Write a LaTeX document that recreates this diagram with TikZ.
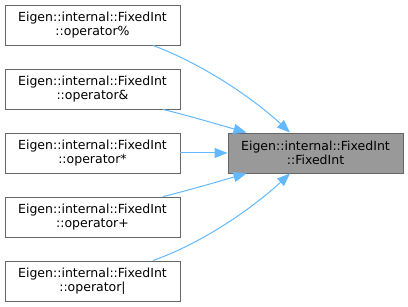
\documentclass[tikz,border=0pt]{standalone}
\usepackage{fontspec}
\setmainfont{DejaVu Sans}
\usetikzlibrary{arrows.meta}
\definecolor{edgeblue}{HTML}{63B8FF}
\definecolor{boxline}{HTML}{666666}
\definecolor{hlfill}{HTML}{999999}
\tikzset{
  fnbox/.style={draw=boxline, line width=0.9pt, fill=white, minimum width=175pt,
    minimum height=40pt, inner sep=0pt, align=center, font=\fontsize{12.5}{13.5}\selectfont},
  hlbox/.style={fnbox, fill=hlfill},
  callarrow/.style={draw=edgeblue, line width=1pt,
    -{Triangle[length=13pt,width=10pt]}, shorten >=0pt}
}
\begin{document}
\begin{tikzpicture}[x=1pt,y=-1pt]
  \useasboundingbox (0,0) rectangle (408,307);
  \node[fnbox] (mod) at (92.5,25)  {Eigen::internal::FixedInt\\::operator\%};
  \node[fnbox] (and) at (92.5,89)  {Eigen::internal::FixedInt\\::operator\&};
  \node[fnbox] (mul) at (92.5,153) {Eigen::internal::FixedInt\\::operator*};
  \node[fnbox] (add) at (92.5,217) {Eigen::internal::FixedInt\\::operator+};
  \node[fnbox] (bor) at (92.5,281) {Eigen::internal::FixedInt\\::operator|};
  \node[hlbox] (fi)  at (315.5,153) {Eigen::internal::FixedInt\\::FixedInt};

  \coordinate (t1) at ([xshift=-25.5]fi.north);
  \coordinate (t2) at ([xshift=-69]fi.north);
  \coordinate (t4) at ([xshift=-69]fi.south);
  \coordinate (t5) at ([xshift=-25.5]fi.south);

  \draw[callarrow] ([xshift=60.5]mod.south) .. controls (205,65) and (255,100) .. (t1);
  \draw[callarrow] ([xshift=70.5]and.south) .. controls (190,116) and (220,125) .. (t2);
  \draw[callarrow] (mul.east) -- (fi.west);
  \draw[callarrow] ([xshift=70.5]add.north) .. controls (190,190) and (220,181) .. (t4);
  \draw[callarrow] ([xshift=60.5]bor.north) .. controls (205,242) and (255,206) .. (t5);
\end{tikzpicture}
\end{document}
